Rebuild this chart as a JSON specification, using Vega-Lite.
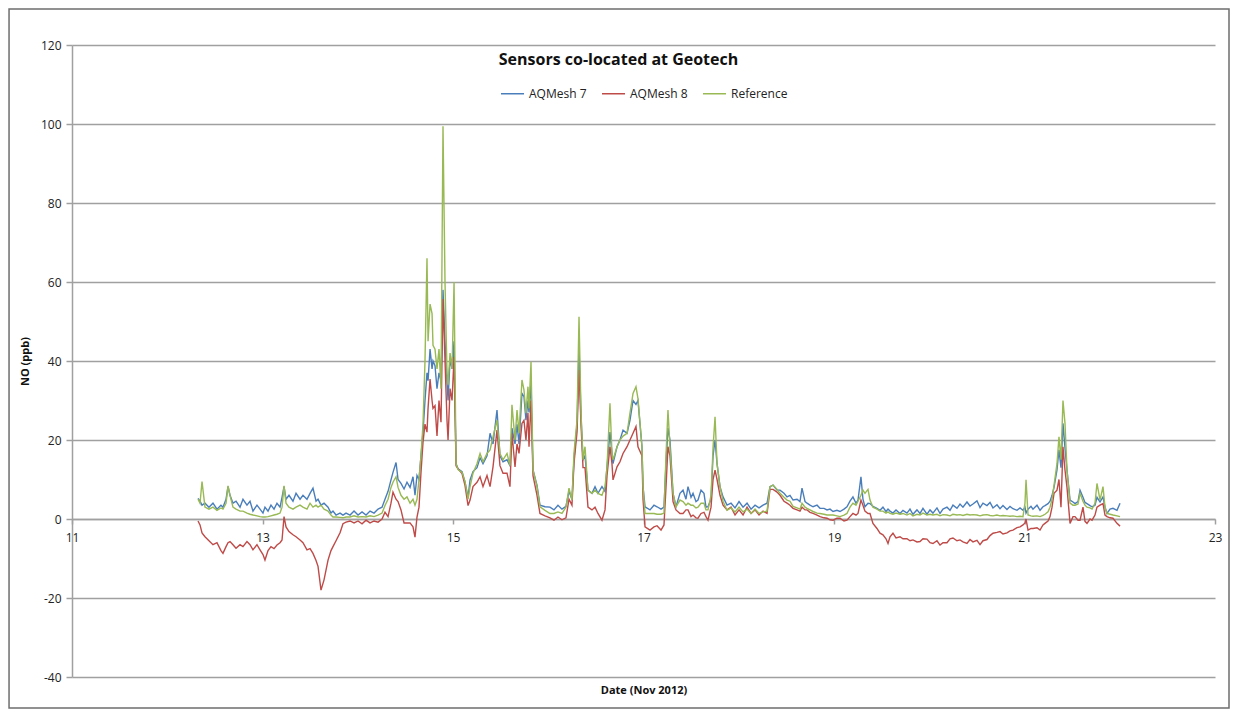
{
  "$schema": "https://vega.github.io/schema/vega-lite/v6.json",
  "autosize": {"type": "none"},
  "width": 1143,
  "height": 632,
  "padding": {"left": 72, "top": 45, "right": 23, "bottom": 41},
  "background": "#ffffff",
  "config": {
    "view": {"stroke": null},
    "font": "Open Sans",
    "axis": {"labelFont": "Open Sans", "titleFont": "Open Sans"},
    "legend": {"labelFont": "Open Sans"}
  },
  "title": {
    "text": "Sensors co-located at Geotech",
    "font": "Open Sans",
    "fontSize": 16,
    "fontWeight": "bold",
    "color": "#111111",
    "anchor": "middle",
    "offset": -60,
    "dx": -25
  },
  "layer": [
    {
      "data": {"values": [{}]},
      "mark": {"type": "rect", "fill": "transparent", "stroke": "#6e6e6e", "strokeWidth": 1.5, "clip": false},
      "encoding": {
        "x": {"datum": 10.339, "type": "quantitative"},
        "x2": {"datum": 23.147},
        "y": {"datum": 129.1, "type": "quantitative"},
        "y2": {"datum": -47.85}
      }
    },
    {
      "data": {"values": [
{"t":12.323,"AQMesh 7":5.2,"AQMesh 8":-0.5,"Reference":5},
{"t":12.344,"AQMesh 7":4.5,"AQMesh 8":-1.5,"Reference":4},
{"t":12.365,"AQMesh 7":3.5,"AQMesh 8":-3.5,"Reference":9.5},
{"t":12.396,"AQMesh 7":4,"AQMesh 8":-4.5,"Reference":3},
{"t":12.438,"AQMesh 7":3,"AQMesh 8":-5.5,"Reference":2.5},
{"t":12.48,"AQMesh 7":4,"AQMesh 8":-6.5,"Reference":3},
{"t":12.522,"AQMesh 7":2.5,"AQMesh 8":-6,"Reference":2.2},
{"t":12.564,"AQMesh 7":3.5,"AQMesh 8":-8,"Reference":2.8},
{"t":12.585,"AQMesh 7":3,"AQMesh 8":-8.7,"Reference":2.5},
{"t":12.617,"AQMesh 7":5,"AQMesh 8":-7,"Reference":4},
{"t":12.638,"AQMesh 7":8.2,"AQMesh 8":-6,"Reference":8.4},
{"t":12.659,"AQMesh 7":6,"AQMesh 8":-5.7,"Reference":6},
{"t":12.69,"AQMesh 7":4,"AQMesh 8":-6.5,"Reference":3},
{"t":12.722,"AQMesh 7":4.5,"AQMesh 8":-7.4,"Reference":2.5},
{"t":12.764,"AQMesh 7":3,"AQMesh 8":-6.5,"Reference":2},
{"t":12.795,"AQMesh 7":5,"AQMesh 8":-7,"Reference":2},
{"t":12.837,"AQMesh 7":3.5,"AQMesh 8":-5.7,"Reference":1.5},
{"t":12.869,"AQMesh 7":4.5,"AQMesh 8":-6.5,"Reference":1.2},
{"t":12.9,"AQMesh 7":2,"AQMesh 8":-7.8,"Reference":1},
{"t":12.942,"AQMesh 7":3.5,"AQMesh 8":-6.5,"Reference":0.8},
{"t":12.974,"AQMesh 7":2.5,"AQMesh 8":-7.8,"Reference":0.6},
{"t":13.005,"AQMesh 7":1.5,"AQMesh 8":-9,"Reference":0.5},
{"t":13.026,"AQMesh 7":3,"AQMesh 8":-10.4,"Reference":0.5},
{"t":13.058,"AQMesh 7":2,"AQMesh 8":-8,"Reference":0.6},
{"t":13.089,"AQMesh 7":3.5,"AQMesh 8":-7,"Reference":0.8},
{"t":13.121,"AQMesh 7":2.5,"AQMesh 8":-7.5,"Reference":1},
{"t":13.152,"AQMesh 7":4,"AQMesh 8":-6.6,"Reference":1.2},
{"t":13.184,"AQMesh 7":3,"AQMesh 8":-6,"Reference":1.5},
{"t":13.205,"AQMesh 7":5.5,"AQMesh 8":-5.3,"Reference":3},
{"t":13.226,"AQMesh 7":8.2,"AQMesh 8":0.6,"Reference":8.4},
{"t":13.247,"AQMesh 7":5,"AQMesh 8":-2,"Reference":4},
{"t":13.278,"AQMesh 7":6,"AQMesh 8":-3.2,"Reference":3},
{"t":13.32,"AQMesh 7":4.5,"AQMesh 8":-4,"Reference":2.5},
{"t":13.352,"AQMesh 7":6.5,"AQMesh 8":-4.5,"Reference":3},
{"t":13.394,"AQMesh 7":5,"AQMesh 8":-5.3,"Reference":3.5},
{"t":13.425,"AQMesh 7":6,"AQMesh 8":-6,"Reference":3},
{"t":13.467,"AQMesh 7":5,"AQMesh 8":-7.8,"Reference":2.5},
{"t":13.499,"AQMesh 7":6.5,"AQMesh 8":-7.5,"Reference":4},
{"t":13.53,"AQMesh 7":7.8,"AQMesh 8":-8.7,"Reference":3},
{"t":13.562,"AQMesh 7":4.5,"AQMesh 8":-10.5,"Reference":3.5},
{"t":13.583,"AQMesh 7":5,"AQMesh 8":-12,"Reference":3},
{"t":13.614,"AQMesh 7":3.5,"AQMesh 8":-18,"Reference":3.5},
{"t":13.646,"AQMesh 7":4,"AQMesh 8":-15.4,"Reference":2.5},
{"t":13.688,"AQMesh 7":3,"AQMesh 8":-10.4,"Reference":2},
{"t":13.719,"AQMesh 7":1.5,"AQMesh 8":-8,"Reference":1},
{"t":13.74,"AQMesh 7":2,"AQMesh 8":-7,"Reference":0.5},
{"t":13.772,"AQMesh 7":1,"AQMesh 8":-5.5,"Reference":0.5},
{"t":13.814,"AQMesh 7":1.5,"AQMesh 8":-3.5,"Reference":0.4},
{"t":13.845,"AQMesh 7":1,"AQMesh 8":-1.2,"Reference":0.3},
{"t":13.877,"AQMesh 7":1.5,"AQMesh 8":-0.8,"Reference":0.5},
{"t":13.919,"AQMesh 7":1,"AQMesh 8":-0.5,"Reference":0.5},
{"t":13.961,"AQMesh 7":2,"AQMesh 8":-1,"Reference":0.8},
{"t":14.003,"AQMesh 7":1,"AQMesh 8":-0.5,"Reference":0.5},
{"t":14.045,"AQMesh 7":1.8,"AQMesh 8":-1.2,"Reference":0.6},
{"t":14.087,"AQMesh 7":1,"AQMesh 8":-0.3,"Reference":0.5},
{"t":14.129,"AQMesh 7":2,"AQMesh 8":-1,"Reference":0.8},
{"t":14.171,"AQMesh 7":1.5,"AQMesh 8":-0.5,"Reference":0.6},
{"t":14.213,"AQMesh 7":2.5,"AQMesh 8":-0.8,"Reference":1},
{"t":14.255,"AQMesh 7":3,"AQMesh 8":0,"Reference":1.5},
{"t":14.286,"AQMesh 7":5,"AQMesh 8":1.7,"Reference":3.4},
{"t":14.318,"AQMesh 7":7,"AQMesh 8":0.6,"Reference":5},
{"t":14.349,"AQMesh 7":9.9,"AQMesh 8":4,"Reference":8},
{"t":14.37,"AQMesh 7":11.8,"AQMesh 8":6.8,"Reference":9.3},
{"t":14.402,"AQMesh 7":14.3,"AQMesh 8":5,"Reference":10.7},
{"t":14.423,"AQMesh 7":10,"AQMesh 8":4.4,"Reference":8},
{"t":14.454,"AQMesh 7":9,"AQMesh 8":2.3,"Reference":6},
{"t":14.486,"AQMesh 7":7.6,"AQMesh 8":-1,"Reference":5},
{"t":14.517,"AQMesh 7":9.3,"AQMesh 8":-1,"Reference":5.6},
{"t":14.549,"AQMesh 7":8,"AQMesh 8":-1,"Reference":4},
{"t":14.58,"AQMesh 7":10.7,"AQMesh 8":-2,"Reference":5},
{"t":14.601,"AQMesh 7":6,"AQMesh 8":-4.6,"Reference":3.5},
{"t":14.622,"AQMesh 7":11,"AQMesh 8":0.5,"Reference":5},
{"t":14.643,"AQMesh 7":10,"AQMesh 8":3,"Reference":10},
{"t":14.664,"AQMesh 7":16,"AQMesh 8":11.8,"Reference":16},
{"t":14.685,"AQMesh 7":22,"AQMesh 8":19.4,"Reference":24},
{"t":14.706,"AQMesh 7":30,"AQMesh 8":24,"Reference":40},
{"t":14.727,"AQMesh 7":37,"AQMesh 8":22,"Reference":66},
{"t":14.738,"AQMesh 7":35,"AQMesh 8":28,"Reference":45},
{"t":14.759,"AQMesh 7":43,"AQMesh 8":35.4,"Reference":54.4},
{"t":14.78,"AQMesh 7":38,"AQMesh 8":30,"Reference":52},
{"t":14.79,"AQMesh 7":40,"AQMesh 8":28,"Reference":44},
{"t":14.811,"AQMesh 7":38.8,"AQMesh 8":28.7,"Reference":43},
{"t":14.832,"AQMesh 7":33,"AQMesh 8":21,"Reference":38},
{"t":14.853,"AQMesh 7":37,"AQMesh 8":30,"Reference":43},
{"t":14.874,"AQMesh 7":35,"AQMesh 8":24.5,"Reference":33},
{"t":14.895,"AQMesh 7":58,"AQMesh 8":55.7,"Reference":99.4},
{"t":14.916,"AQMesh 7":45,"AQMesh 8":40,"Reference":60},
{"t":14.937,"AQMesh 7":35,"AQMesh 8":25,"Reference":37},
{"t":14.948,"AQMesh 7":30,"AQMesh 8":20,"Reference":34},
{"t":14.969,"AQMesh 7":40.5,"AQMesh 8":33,"Reference":42},
{"t":14.99,"AQMesh 7":38,"AQMesh 8":30,"Reference":38},
{"t":15.011,"AQMesh 7":45,"AQMesh 8":41,"Reference":60},
{"t":15.032,"AQMesh 7":14,"AQMesh 8":13.5,"Reference":14},
{"t":15.053,"AQMesh 7":12.7,"AQMesh 8":12.7,"Reference":12.5},
{"t":15.095,"AQMesh 7":12,"AQMesh 8":11.5,"Reference":11.8},
{"t":15.126,"AQMesh 7":9.3,"AQMesh 8":8.5,"Reference":9.5},
{"t":15.158,"AQMesh 7":5.5,"AQMesh 8":3.4,"Reference":5},
{"t":15.179,"AQMesh 7":9.9,"AQMesh 8":4.8,"Reference":8.2},
{"t":15.21,"AQMesh 7":12,"AQMesh 8":8.2,"Reference":11.6},
{"t":15.252,"AQMesh 7":13,"AQMesh 8":9.3,"Reference":14},
{"t":15.284,"AQMesh 7":15.5,"AQMesh 8":10.7,"Reference":16.6},
{"t":15.315,"AQMesh 7":14,"AQMesh 8":8.2,"Reference":14.5},
{"t":15.357,"AQMesh 7":16,"AQMesh 8":11,"Reference":16.6},
{"t":15.389,"AQMesh 7":21.7,"AQMesh 8":8.2,"Reference":17.5},
{"t":15.42,"AQMesh 7":19,"AQMesh 8":13.2,"Reference":20.8},
{"t":15.462,"AQMesh 7":27.6,"AQMesh 8":22.5,"Reference":25},
{"t":15.493,"AQMesh 7":16,"AQMesh 8":13.5,"Reference":16.6},
{"t":15.525,"AQMesh 7":14.5,"AQMesh 8":11.6,"Reference":15},
{"t":15.567,"AQMesh 7":15,"AQMesh 8":11.6,"Reference":16.6},
{"t":15.598,"AQMesh 7":13.5,"AQMesh 8":8.2,"Reference":13.5},
{"t":15.619,"AQMesh 7":23,"AQMesh 8":21.7,"Reference":28.9},
{"t":15.651,"AQMesh 7":19,"AQMesh 8":13.2,"Reference":20},
{"t":15.672,"AQMesh 7":24,"AQMesh 8":19,"Reference":27.6},
{"t":15.693,"AQMesh 7":19,"AQMesh 8":16.6,"Reference":21.7},
{"t":15.724,"AQMesh 7":31.8,"AQMesh 8":24.2,"Reference":35.2},
{"t":15.745,"AQMesh 7":31,"AQMesh 8":25,"Reference":32.7},
{"t":15.766,"AQMesh 7":25,"AQMesh 8":20,"Reference":26.8},
{"t":15.787,"AQMesh 7":30,"AQMesh 8":26.8,"Reference":33.5},
{"t":15.798,"AQMesh 7":27,"AQMesh 8":18.3,"Reference":28},
{"t":15.819,"AQMesh 7":35,"AQMesh 8":30,"Reference":39.8},
{"t":15.84,"AQMesh 7":12.4,"AQMesh 8":11,"Reference":12.4},
{"t":15.882,"AQMesh 7":8.5,"AQMesh 8":6,"Reference":8.2},
{"t":15.913,"AQMesh 7":3.5,"AQMesh 8":1.4,"Reference":3.1},
{"t":15.966,"AQMesh 7":3.1,"AQMesh 8":0.8,"Reference":2.2},
{"t":16.018,"AQMesh 7":3,"AQMesh 8":0.3,"Reference":1.4},
{"t":16.06,"AQMesh 7":2.3,"AQMesh 8":-0.3,"Reference":1.4},
{"t":16.102,"AQMesh 7":3.5,"AQMesh 8":0.5,"Reference":1.8},
{"t":16.144,"AQMesh 7":2.5,"AQMesh 8":-0.2,"Reference":1.4},
{"t":16.186,"AQMesh 7":3.2,"AQMesh 8":0.3,"Reference":3},
{"t":16.218,"AQMesh 7":7,"AQMesh 8":5,"Reference":7.8},
{"t":16.249,"AQMesh 7":5,"AQMesh 8":3.5,"Reference":4.8},
{"t":16.27,"AQMesh 7":15,"AQMesh 8":14,"Reference":16.6},
{"t":16.302,"AQMesh 7":24,"AQMesh 8":22,"Reference":25},
{"t":16.323,"AQMesh 7":43.6,"AQMesh 8":37.7,"Reference":51.2},
{"t":16.344,"AQMesh 7":26,"AQMesh 8":24,"Reference":26.8},
{"t":16.365,"AQMesh 7":15,"AQMesh 8":13,"Reference":15},
{"t":16.386,"AQMesh 7":16,"AQMesh 8":13,"Reference":18.3},
{"t":16.417,"AQMesh 7":7.3,"AQMesh 8":3,"Reference":7.3},
{"t":16.459,"AQMesh 7":6.5,"AQMesh 8":2.3,"Reference":6.5},
{"t":16.491,"AQMesh 7":8.2,"AQMesh 8":3,"Reference":7.3},
{"t":16.522,"AQMesh 7":6.5,"AQMesh 8":1.4,"Reference":6.5},
{"t":16.564,"AQMesh 7":8.2,"AQMesh 8":-0.3,"Reference":6},
{"t":16.596,"AQMesh 7":7,"AQMesh 8":2.3,"Reference":8.2},
{"t":16.617,"AQMesh 7":13.2,"AQMesh 8":11,"Reference":13.2},
{"t":16.648,"AQMesh 7":22,"AQMesh 8":18.3,"Reference":29.3},
{"t":16.669,"AQMesh 7":16.6,"AQMesh 8":14,"Reference":16.6},
{"t":16.68,"AQMesh 7":14,"AQMesh 8":9.9,"Reference":15},
{"t":16.722,"AQMesh 7":18.3,"AQMesh 8":13.2,"Reference":18.3},
{"t":16.753,"AQMesh 7":20,"AQMesh 8":14.5,"Reference":20},
{"t":16.785,"AQMesh 7":22.5,"AQMesh 8":16.6,"Reference":21},
{"t":16.827,"AQMesh 7":21.7,"AQMesh 8":18.3,"Reference":21.7},
{"t":16.858,"AQMesh 7":25,"AQMesh 8":20,"Reference":26.8},
{"t":16.89,"AQMesh 7":30,"AQMesh 8":21.7,"Reference":31.8},
{"t":16.921,"AQMesh 7":29,"AQMesh 8":23.4,"Reference":33.5},
{"t":16.942,"AQMesh 7":30,"AQMesh 8":18.3,"Reference":30.5},
{"t":16.984,"AQMesh 7":18.3,"AQMesh 8":16,"Reference":18.3},
{"t":16.995,"AQMesh 7":8.2,"AQMesh 8":5,"Reference":8.2},
{"t":17.016,"AQMesh 7":3.1,"AQMesh 8":-2,"Reference":1.4},
{"t":17.068,"AQMesh 7":2.3,"AQMesh 8":-2.8,"Reference":1.4},
{"t":17.11,"AQMesh 7":3.5,"AQMesh 8":-2,"Reference":1.4},
{"t":17.142,"AQMesh 7":3.1,"AQMesh 8":-1.7,"Reference":1.2},
{"t":17.184,"AQMesh 7":2.5,"AQMesh 8":-2.8,"Reference":1.2},
{"t":17.215,"AQMesh 7":3,"AQMesh 8":-1.5,"Reference":1.5},
{"t":17.236,"AQMesh 7":14,"AQMesh 8":8,"Reference":16},
{"t":17.257,"AQMesh 7":23,"AQMesh 8":18.3,"Reference":27.6},
{"t":17.278,"AQMesh 7":20,"AQMesh 8":16,"Reference":18},
{"t":17.31,"AQMesh 7":6.5,"AQMesh 8":4.4,"Reference":6.5},
{"t":17.341,"AQMesh 7":3.1,"AQMesh 8":2.3,"Reference":3.1},
{"t":17.383,"AQMesh 7":6.5,"AQMesh 8":1.4,"Reference":4.8},
{"t":17.415,"AQMesh 7":7.3,"AQMesh 8":1.4,"Reference":4.4},
{"t":17.446,"AQMesh 7":5,"AQMesh 8":2.3,"Reference":3.5},
{"t":17.467,"AQMesh 7":8.2,"AQMesh 8":2.3,"Reference":4},
{"t":17.499,"AQMesh 7":5.5,"AQMesh 8":0.6,"Reference":3.5},
{"t":17.52,"AQMesh 7":6.5,"AQMesh 8":1,"Reference":3.5},
{"t":17.551,"AQMesh 7":4.4,"AQMesh 8":0.3,"Reference":2.8},
{"t":17.572,"AQMesh 7":4.8,"AQMesh 8":0.2,"Reference":3},
{"t":17.604,"AQMesh 7":7.3,"AQMesh 8":1.4,"Reference":4},
{"t":17.635,"AQMesh 7":6.5,"AQMesh 8":1.7,"Reference":4},
{"t":17.656,"AQMesh 7":3,"AQMesh 8":0.6,"Reference":2.3},
{"t":17.677,"AQMesh 7":3.1,"AQMesh 8":-0.3,"Reference":2.3},
{"t":17.709,"AQMesh 7":5,"AQMesh 8":3,"Reference":6},
{"t":17.73,"AQMesh 7":16,"AQMesh 8":10,"Reference":18},
{"t":17.751,"AQMesh 7":20,"AQMesh 8":12.4,"Reference":25.9},
{"t":17.772,"AQMesh 7":14,"AQMesh 8":10,"Reference":14},
{"t":17.803,"AQMesh 7":8.2,"AQMesh 8":6,"Reference":8.2},
{"t":17.835,"AQMesh 7":5.6,"AQMesh 8":3.5,"Reference":4.5},
{"t":17.877,"AQMesh 7":3.5,"AQMesh 8":2.3,"Reference":2.2},
{"t":17.919,"AQMesh 7":4,"AQMesh 8":3,"Reference":2.8},
{"t":17.961,"AQMesh 7":2.8,"AQMesh 8":1,"Reference":1.8},
{"t":18.003,"AQMesh 7":4.4,"AQMesh 8":2.3,"Reference":3},
{"t":18.045,"AQMesh 7":3,"AQMesh 8":1,"Reference":1.8},
{"t":18.087,"AQMesh 7":4,"AQMesh 8":3,"Reference":2.5},
{"t":18.129,"AQMesh 7":2.5,"AQMesh 8":1.4,"Reference":1.4},
{"t":18.171,"AQMesh 7":3.5,"AQMesh 8":2.3,"Reference":2.5},
{"t":18.213,"AQMesh 7":2.8,"AQMesh 8":1,"Reference":1.4},
{"t":18.255,"AQMesh 7":3.5,"AQMesh 8":2,"Reference":1.8},
{"t":18.297,"AQMesh 7":4,"AQMesh 8":1.4,"Reference":2},
{"t":18.328,"AQMesh 7":8.2,"AQMesh 8":7.5,"Reference":8.2},
{"t":18.36,"AQMesh 7":8.6,"AQMesh 8":7.5,"Reference":8.6},
{"t":18.402,"AQMesh 7":7.3,"AQMesh 8":6.8,"Reference":7.5},
{"t":18.433,"AQMesh 7":7.3,"AQMesh 8":6,"Reference":6.5},
{"t":18.475,"AQMesh 7":6.5,"AQMesh 8":4.5,"Reference":5.5},
{"t":18.507,"AQMesh 7":5.6,"AQMesh 8":4,"Reference":4.8},
{"t":18.538,"AQMesh 7":6,"AQMesh 8":3.5,"Reference":4.5},
{"t":18.57,"AQMesh 7":4.8,"AQMesh 8":2.7,"Reference":3.2},
{"t":18.612,"AQMesh 7":5,"AQMesh 8":2.3,"Reference":2.8},
{"t":18.643,"AQMesh 7":4.4,"AQMesh 8":2,"Reference":2.5},
{"t":18.664,"AQMesh 7":7.8,"AQMesh 8":3,"Reference":4},
{"t":18.696,"AQMesh 7":4.4,"AQMesh 8":2.3,"Reference":3},
{"t":18.717,"AQMesh 7":4,"AQMesh 8":2.3,"Reference":2.7},
{"t":18.748,"AQMesh 7":3.5,"AQMesh 8":1.7,"Reference":2.3},
{"t":18.78,"AQMesh 7":3.1,"AQMesh 8":1.4,"Reference":1.9},
{"t":18.822,"AQMesh 7":3.5,"AQMesh 8":1,"Reference":1.5},
{"t":18.853,"AQMesh 7":2.7,"AQMesh 8":0.6,"Reference":1.4},
{"t":18.895,"AQMesh 7":2.7,"AQMesh 8":0.3,"Reference":1.2},
{"t":18.927,"AQMesh 7":2.3,"AQMesh 8":0.2,"Reference":1},
{"t":18.958,"AQMesh 7":2.5,"AQMesh 8":-0.2,"Reference":1},
{"t":18.99,"AQMesh 7":1.9,"AQMesh 8":-0.3,"Reference":1},
{"t":19.031,"AQMesh 7":2.2,"AQMesh 8":0.2,"Reference":0.8},
{"t":19.063,"AQMesh 7":1.9,"AQMesh 8":0.2,"Reference":0.6},
{"t":19.105,"AQMesh 7":2.5,"AQMesh 8":-0.5,"Reference":1},
{"t":19.136,"AQMesh 7":3.1,"AQMesh 8":-0.3,"Reference":1.4},
{"t":19.168,"AQMesh 7":4.5,"AQMesh 8":0.6,"Reference":3},
{"t":19.199,"AQMesh 7":5.6,"AQMesh 8":1.4,"Reference":4},
{"t":19.231,"AQMesh 7":4,"AQMesh 8":1,"Reference":3.5},
{"t":19.252,"AQMesh 7":4.8,"AQMesh 8":1.4,"Reference":4.5},
{"t":19.283,"AQMesh 7":10.7,"AQMesh 8":4.8,"Reference":6},
{"t":19.304,"AQMesh 7":5,"AQMesh 8":3.5,"Reference":7.3},
{"t":19.325,"AQMesh 7":3.1,"AQMesh 8":2,"Reference":6.5},
{"t":19.357,"AQMesh 7":4,"AQMesh 8":1.4,"Reference":7.5},
{"t":19.378,"AQMesh 7":3.9,"AQMesh 8":1.4,"Reference":4.8},
{"t":19.409,"AQMesh 7":3.2,"AQMesh 8":-1.1,"Reference":3},
{"t":19.451,"AQMesh 7":2.7,"AQMesh 8":-2.4,"Reference":2.5},
{"t":19.483,"AQMesh 7":2.2,"AQMesh 8":-3.6,"Reference":2},
{"t":19.514,"AQMesh 7":3,"AQMesh 8":-4,"Reference":2},
{"t":19.546,"AQMesh 7":1.9,"AQMesh 8":-5,"Reference":1.5},
{"t":19.567,"AQMesh 7":2.5,"AQMesh 8":-6.2,"Reference":1.8},
{"t":19.588,"AQMesh 7":2,"AQMesh 8":-4.5,"Reference":1.4},
{"t":19.619,"AQMesh 7":1.5,"AQMesh 8":-3.6,"Reference":1.2},
{"t":19.651,"AQMesh 7":2.3,"AQMesh 8":-4.8,"Reference":1.5},
{"t":19.693,"AQMesh 7":1.4,"AQMesh 8":-4.5,"Reference":1.2},
{"t":19.724,"AQMesh 7":2.2,"AQMesh 8":-5,"Reference":1.4},
{"t":19.766,"AQMesh 7":1.5,"AQMesh 8":-5,"Reference":1},
{"t":19.798,"AQMesh 7":2.5,"AQMesh 8":-5.5,"Reference":1.4},
{"t":19.829,"AQMesh 7":1.2,"AQMesh 8":-5.3,"Reference":0.8},
{"t":19.871,"AQMesh 7":2.3,"AQMesh 8":-5.8,"Reference":1.2},
{"t":19.903,"AQMesh 7":1.4,"AQMesh 8":-5.7,"Reference":1},
{"t":19.934,"AQMesh 7":2.7,"AQMesh 8":-5,"Reference":1.5},
{"t":19.976,"AQMesh 7":1.2,"AQMesh 8":-5.1,"Reference":1},
{"t":20.008,"AQMesh 7":2.3,"AQMesh 8":-6,"Reference":1.2},
{"t":20.039,"AQMesh 7":1.5,"AQMesh 8":-6.2,"Reference":1},
{"t":20.081,"AQMesh 7":2.8,"AQMesh 8":-5.5,"Reference":1.2},
{"t":20.113,"AQMesh 7":1.4,"AQMesh 8":-6.6,"Reference":0.8},
{"t":20.144,"AQMesh 7":2.5,"AQMesh 8":-6,"Reference":1.1},
{"t":20.186,"AQMesh 7":3,"AQMesh 8":-6,"Reference":1},
{"t":20.218,"AQMesh 7":2.2,"AQMesh 8":-5,"Reference":0.8},
{"t":20.249,"AQMesh 7":3.5,"AQMesh 8":-4.8,"Reference":1.2},
{"t":20.291,"AQMesh 7":2.7,"AQMesh 8":-5.5,"Reference":1},
{"t":20.323,"AQMesh 7":3.8,"AQMesh 8":-5.3,"Reference":1.1},
{"t":20.354,"AQMesh 7":3,"AQMesh 8":-5.8,"Reference":0.9},
{"t":20.396,"AQMesh 7":4.3,"AQMesh 8":-6.2,"Reference":1.2},
{"t":20.428,"AQMesh 7":3.3,"AQMesh 8":-5.2,"Reference":1},
{"t":20.459,"AQMesh 7":3.8,"AQMesh 8":-5.8,"Reference":1.1},
{"t":20.501,"AQMesh 7":4.6,"AQMesh 8":-5.4,"Reference":1},
{"t":20.533,"AQMesh 7":2.9,"AQMesh 8":-6.5,"Reference":0.8},
{"t":20.564,"AQMesh 7":4,"AQMesh 8":-5.5,"Reference":1},
{"t":20.606,"AQMesh 7":3.4,"AQMesh 8":-5.2,"Reference":1.1},
{"t":20.638,"AQMesh 7":4.2,"AQMesh 8":-4.2,"Reference":0.9},
{"t":20.669,"AQMesh 7":2.8,"AQMesh 8":-3.6,"Reference":0.8},
{"t":20.711,"AQMesh 7":3.6,"AQMesh 8":-3.4,"Reference":1},
{"t":20.743,"AQMesh 7":2.6,"AQMesh 8":-3.2,"Reference":0.8},
{"t":20.774,"AQMesh 7":3.4,"AQMesh 8":-3.8,"Reference":0.9},
{"t":20.816,"AQMesh 7":2.4,"AQMesh 8":-3.5,"Reference":0.8},
{"t":20.848,"AQMesh 7":3.2,"AQMesh 8":-3,"Reference":0.7},
{"t":20.879,"AQMesh 7":2.6,"AQMesh 8":-2.8,"Reference":0.8},
{"t":20.921,"AQMesh 7":2.2,"AQMesh 8":-2.2,"Reference":0.6},
{"t":20.953,"AQMesh 7":2.8,"AQMesh 8":-2,"Reference":0.7},
{"t":20.984,"AQMesh 7":2.2,"AQMesh 8":-1.5,"Reference":0.6},
{"t":21.005,"AQMesh 7":3,"AQMesh 8":-1,"Reference":4},
{"t":21.016,"AQMesh 7":1.5,"AQMesh 8":0,"Reference":9.9},
{"t":21.037,"AQMesh 7":2.5,"AQMesh 8":-2.8,"Reference":1},
{"t":21.068,"AQMesh 7":3.2,"AQMesh 8":-2.4,"Reference":0.8},
{"t":21.089,"AQMesh 7":2.5,"AQMesh 8":-2.4,"Reference":0.7},
{"t":21.131,"AQMesh 7":3.5,"AQMesh 8":-2.2,"Reference":0.8},
{"t":21.163,"AQMesh 7":2.2,"AQMesh 8":-2.8,"Reference":0.6},
{"t":21.194,"AQMesh 7":3.1,"AQMesh 8":-1.5,"Reference":0.9},
{"t":21.215,"AQMesh 7":3.4,"AQMesh 8":-1.1,"Reference":1.2},
{"t":21.247,"AQMesh 7":3.9,"AQMesh 8":-0.5,"Reference":1.8},
{"t":21.268,"AQMesh 7":4.5,"AQMesh 8":0.6,"Reference":3},
{"t":21.289,"AQMesh 7":6,"AQMesh 8":3,"Reference":5},
{"t":21.31,"AQMesh 7":8,"AQMesh 8":6.5,"Reference":8.5},
{"t":21.341,"AQMesh 7":12.4,"AQMesh 8":7.3,"Reference":14},
{"t":21.362,"AQMesh 7":17.5,"AQMesh 8":10,"Reference":20.8},
{"t":21.383,"AQMesh 7":13,"AQMesh 8":3,"Reference":15},
{"t":21.404,"AQMesh 7":24.2,"AQMesh 8":18.3,"Reference":30},
{"t":21.425,"AQMesh 7":18,"AQMesh 8":12.4,"Reference":24.2},
{"t":21.446,"AQMesh 7":12.4,"AQMesh 8":8,"Reference":12.4},
{"t":21.478,"AQMesh 7":4.8,"AQMesh 8":-1.1,"Reference":4},
{"t":21.509,"AQMesh 7":4.3,"AQMesh 8":0.6,"Reference":3.5},
{"t":21.53,"AQMesh 7":3.9,"AQMesh 8":0.6,"Reference":3.5},
{"t":21.562,"AQMesh 7":4.4,"AQMesh 8":-0.3,"Reference":3.8},
{"t":21.583,"AQMesh 7":7.3,"AQMesh 8":-0.3,"Reference":6.5},
{"t":21.614,"AQMesh 7":5.5,"AQMesh 8":3,"Reference":4.5},
{"t":21.635,"AQMesh 7":4.2,"AQMesh 8":-0.6,"Reference":3.5},
{"t":21.656,"AQMesh 7":3.9,"AQMesh 8":-1.1,"Reference":3},
{"t":21.688,"AQMesh 7":3.4,"AQMesh 8":0,"Reference":2.8},
{"t":21.709,"AQMesh 7":3.1,"AQMesh 8":-0.3,"Reference":2.5},
{"t":21.74,"AQMesh 7":3.5,"AQMesh 8":1,"Reference":4},
{"t":21.761,"AQMesh 7":5.5,"AQMesh 8":3,"Reference":9},
{"t":21.793,"AQMesh 7":4.3,"AQMesh 8":3.5,"Reference":4.8},
{"t":21.824,"AQMesh 7":5.6,"AQMesh 8":3.9,"Reference":8.2},
{"t":21.845,"AQMesh 7":3,"AQMesh 8":1,"Reference":3},
{"t":21.866,"AQMesh 7":1.4,"AQMesh 8":0.6,"Reference":1.4},
{"t":21.898,"AQMesh 7":2.5,"AQMesh 8":0.3,"Reference":1.2},
{"t":21.929,"AQMesh 7":2.7,"AQMesh 8":0.2,"Reference":1},
{"t":21.971,"AQMesh 7":2.2,"AQMesh 8":-1.1,"Reference":0.8},
{"t":22.003,"AQMesh 7":4,"AQMesh 8":-1.8,"Reference":0.6}
      ]},
      "transform": [{"fold": ["AQMesh 7", "AQMesh 8", "Reference"], "as": ["series", "value"]}],
      "mark": {"type": "line", "strokeWidth": 1.4, "clip": true},
      "encoding": {
        "x": {
          "field": "t",
          "type": "quantitative",
          "scale": {"domain": [11, 23], "nice": false, "zero": false},
          "axis": {
            "values": [11, 13, 15, 17, 19, 21, 23],
            "labelExpr": "datum.value + ''",
            "offset": -158,
            "grid": false,
            "domainColor": "#a0a0a0",
            "domainWidth": 1.5,
            "tickColor": "#a0a0a0",
            "tickWidth": 1.5,
            "tickSize": 5,
            "labelPadding": 8,
            "labelFontSize": 12,
            "labelColor": "#222222",
            "labelFlush": false,
            "title": "Date (Nov 2012)",
            "titleFontSize": 11,
            "titleFontWeight": "bold",
            "titleColor": "#111111",
            "titleBaseline": "top",
            "titleY": 165
          }
        },
        "y": {
          "field": "value",
          "type": "quantitative",
          "scale": {"domain": [-40, 120], "nice": false, "zero": false},
          "axis": {
            "values": [-40, -20, 0, 20, 40, 60, 80, 100, 120],
            "labelExpr": "datum.value + ''",
            "grid": true,
            "gridColor": "#a0a0a0",
            "gridWidth": 1.5,
            "domainColor": "#a0a0a0",
            "domainWidth": 1.5,
            "tickColor": "#a0a0a0",
            "tickWidth": 1.5,
            "tickSize": 6,
            "labelPadding": 5,
            "labelFontSize": 12,
            "labelColor": "#222222",
            "title": "NO (ppb)",
            "titleFontSize": 11,
            "titleFontWeight": "bold",
            "titleColor": "#111111",
            "titlePadding": 10
          }
        },
        "color": {
          "field": "series",
          "type": "nominal",
          "scale": {"domain": ["AQMesh 7", "AQMesh 8", "Reference"], "range": ["#4a7ebb", "#be4b48", "#98b954"]},
          "legend": {
            "title": null,
            "orient": "none",
            "legendX": 428,
            "legendY": 36,
            "direction": "horizontal",
            "symbolType": "stroke",
            "symbolSize": 529,
            "symbolStrokeWidth": 1.5,
            "labelFontSize": 12,
            "labelColor": "#222222",
            "labelOffset": 4,
            "columnPadding": 12
          }
        }
      }
    }
  ]
}
